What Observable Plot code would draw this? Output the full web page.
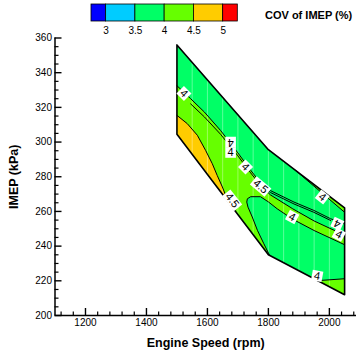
<!DOCTYPE html>
<html><head><meta charset="utf-8">
<script src="https://cdn.jsdelivr.net/npm/d3@7"></script>
<script src="https://cdn.jsdelivr.net/npm/@observablehq/plot@0.6"></script>
<style>
html,body{margin:0;padding:0;background:#fff;overflow:hidden}
#wrap{position:relative;width:356px;height:353px;font-family:"Liberation Sans",Arial,sans-serif}
#chart{position:absolute;left:0;top:0}
#legend{position:absolute;left:0;top:0}
#legendTitle{position:absolute;left:265px;top:9px;font:bold 11px "Liberation Sans",Arial,sans-serif;white-space:nowrap;color:#000}
g[aria-label="x-axis label"] text, g[aria-label="y-axis label"] text{font-weight:bold;font-size:12.5px}
</style></head><body>
<div id="wrap"><div id="chart"></div><div id="legend"></div><div id="legendTitle">COV of IMEP (%)</div></div>
<script>
// ---- legend / colour levels (COV of IMEP, %) ----
const covThresholds = [3, 3.5, 4, 4.5, 5];
const covColors = ["#0000ff", "#00ccff", "#00ff66", "#66ff00", "#ffcc00", "#ff0000"];
const legendEnds = [2.75, 5.25];

// ---- axis ticks ----
const xTicks = [1200, 1400, 1600, 1800, 2000];
const xMinorTicks = [1120, 1160, 1240, 1280, 1320, 1360, 1440, 1480, 1520, 1560, 1640, 1680, 1720, 1760, 1840, 1880, 1920, 1960, 2040, 2080];
const yTicks = [200, 220, 240, 260, 280, 300, 320, 340, 360];
const yMinorTicks = [205, 210, 215, 225, 230, 235, 245, 250, 255, 265, 270, 275, 285, 290, 295, 305, 310, 315, 325, 330, 335, 345, 350, 355];

// ---- measurement mesh columns (rpm) ----
const meshRpm = [1550, 1600, 1650, 1700, 1750, 1800, 1850, 1900, 1950, 2000];

// ---- operating-map boundary (Engine speed rpm, IMEP kPa) ----
const boundaryRpm  = [1500, 1800, 2050, 2050, 1800, 1500, 1500];
const boundaryImep = [356, 295.6, 262, 212, 235, 304.5, 356];

// ---- filled contour bands (band mid value, outline) ----
const limeBandCov = 4.25;
const limeRpm  = [1500, 1500, 1545, 1590, 1643, 1698, 1742, 1774, 1807, 1880, 1950, 2050, 2050, 1950, 1880, 1829, 1800, 1774, 1742, 1731, 1729, 1733, 1747, 1764, 1785, 1803, 1500];
const limeImep = [304.5, 332.5, 325, 317.3, 306.7, 294.2, 283.7, 276.5, 269.5, 261.5, 254.5, 246.3, 240.8, 249, 255.5, 261.5, 265.5, 268.5, 268.5, 267.3, 265.4, 262.5, 256.8, 249.1, 241.4, 235, 304.5];

const orangeBandCov = 4.75;
const orangeRpm  = [1500, 1500, 1534, 1567, 1594, 1616, 1632, 1649, 1666];
const orangeImep = [304.5, 315.4, 310.6, 303.9, 295.2, 287.5, 280.8, 274.1, 266.5];

const topSliverRpm  = [1890, 2050, 2050];
const topSliverImep = [283.5, 259.5, 262];

const cornerRpm  = [1962, 2050, 2050];
const cornerImep = [220.1, 221.2, 212];

const baseBandCov = 3.75;

// ---- contour lines ----
const lineARpm  = [1500, 1545, 1590, 1643, 1698, 1742, 1774, 1807, 1884, 1949, 2004, 2050];
const lineAImep = [332.5, 325, 317.3, 306.7, 294.2, 283.7, 276.5, 272, 265.4, 260.6, 255.8, 252.9];
const lineA2Rpm  = [1774, 1807, 1884, 1949, 2004];
const lineA2Imep = [275.3, 270.9, 264.3, 259.5, 254.8];
const lineURpm  = [1545, 1590, 1643, 1698, 1742, 1774, 1807, 1880, 1950, 2050];
const lineUImep = [322, 314.5, 304.5, 292.5, 282.2, 275, 269.5, 261.5, 254.5, 246.3];
const bulbRpm  = [2050, 1950, 1880, 1829, 1800, 1774, 1742, 1731, 1729, 1733, 1747, 1764, 1785, 1803];
const bulbImep = [240.8, 249, 255.5, 261.5, 265.5, 268.5, 268.5, 267.3, 265.4, 262.5, 256.8, 249.1, 241.4, 235];

// ---- contour labels ----
const labelRpm    = [1523, 1676, 1676, 1725, 1976.7, 1878, 2026, 2031, 1960, 1774.5, 1681];
const labelImep   = [328, 300, 294, 285.6, 268.3, 256.8, 252.9, 246.6, 222.8, 274.4, 266.4];
const labelText   = ["4", "4", "4", "4", "4", "4", "4", "4", "4", "4.5", "4.5"];
const labelAngle  = [45, 180, 0, 45, 38, 28, 205, 28, 10, 40, 52];

// ---------------------------------------------------------------
const color = d3.scaleThreshold(covThresholds, covColors);
const pts = (xs, ys) => xs.map((x, i) => ({rpm: x, imep: ys[i]}));
const boundary = pts(boundaryRpm, boundaryImep);
const lime = pts(limeRpm, limeImep);
const orange = pts(orangeRpm, orangeImep);
const topSliver = pts(topSliverRpm, topSliverImep);
const corner = pts(cornerRpm, cornerImep);
const contourLines = [
  pts(lineARpm, lineAImep), pts(lineA2Rpm, lineA2Imep), pts(lineURpm, lineUImep),
  pts(bulbRpm, bulbImep), pts(orangeRpm.slice(1), orangeImep.slice(1)),
  pts(topSliverRpm.slice(0, 2), topSliverImep.slice(0, 2)), pts(cornerRpm.slice(0, 2), cornerImep.slice(0, 2))
];
const labels = labelRpm.map((x, i) => ({rpm: x, imep: labelImep[i], text: labelText[i], angle: labelAngle[i]}));

const boxSymbol = (aspect) => ({draw(ctx, size) { const s = Math.sqrt(size); ctx.rect(-s * aspect / 2, -s / 2, s * aspect, s); }});

const xy = {x: "rpm", y: "imep"};
const marks = [
  Plot.line(boundary, {...xy, fill: color(baseBandCov), stroke: "none", ariaDescription: "map-region"}),
  Plot.line(lime, {...xy, fill: color(limeBandCov), stroke: "none"}),
  Plot.line(topSliver, {...xy, fill: color(limeBandCov), stroke: "none"}),
  Plot.line(corner, {...xy, fill: color(limeBandCov), stroke: "none"}),
  Plot.line(orange, {...xy, fill: color(orangeBandCov), stroke: "none"}),
  Plot.ruleX(meshRpm, {stroke: "white", strokeOpacity: 0.45, strokeWidth: 0.8, ariaDescription: "mesh"}),
  ...contourLines.map(l => Plot.line(l, {...xy, stroke: "black", strokeWidth: 1})),
  Plot.line(boundary, {...xy, stroke: "black", strokeWidth: 1.6}),
  Plot.dot(labels.filter(d => d.text.length === 1), {...xy, r: 6, symbol: boxSymbol(1), fill: "white", stroke: "none", rotate: "angle"}),
  Plot.dot(labels.filter(d => d.text.length > 1), {...xy, r: 6, symbol: boxSymbol(1.8), fill: "white", stroke: "none", rotate: "angle"}),
  Plot.text(labels, {...xy, text: "text", rotate: "angle", fontSize: 11, fill: "black"}),
  Plot.ruleX([1100], {strokeWidth: 1.5}),
  Plot.ruleY([200], {strokeWidth: 1.5}),
  Plot.axisX({ticks: xMinorTicks, tickSize: -3.5, tickFormat: () => "", label: null, strokeWidth: 1.2}),
  Plot.axisY({ticks: yMinorTicks, tickSize: -4, tickFormat: () => "", label: null, strokeWidth: 1.2}),
  Plot.axisX({ticks: xTicks, tickSize: -7, tickPadding: 10, tickFormat: d => String(d), strokeWidth: 1.4,
    label: "Engine Speed (rpm)", labelAnchor: "center", labelArrow: "none", labelOffset: 31}),
  Plot.axisY({ticks: yTicks, tickSize: -7, tickPadding: 10, tickFormat: d => String(d), strokeWidth: 1.4,
    label: "IMEP (kPa)", labelAnchor: "center", labelArrow: "none", labelOffset: 46})
];

const chart = Plot.plot({
  width: 356, height: 353,
  marginLeft: 54.5, marginRight: 0, marginTop: 37.5, marginBottom: 38,
  x: {domain: [1100, 2089]},
  y: {domain: [200, 360]},
  style: {fontFamily: '"Liberation Sans", Arial, sans-serif', fontSize: "10px", color: "black", background: "transparent"},
  marks
});
document.getElementById("chart").appendChild(chart);

// clip the mesh columns to the measured map region
(function () {
  const regionG = chart.querySelector('g[aria-description="map-region"]');
  const meshG = chart.querySelector('g[aria-description="mesh"]');
  const regionPath = regionG && regionG.querySelector("path");
  if (!regionPath || !meshG) return;
  const ns = "http://www.w3.org/2000/svg";
  const defs = document.createElementNS(ns, "defs");
  const cp = document.createElementNS(ns, "clipPath");
  cp.setAttribute("id", "mapClip");
  const p = document.createElementNS(ns, "path");
  p.setAttribute("d", regionPath.getAttribute("d"));
  const tr = regionG.getAttribute("transform");
  if (tr) p.setAttribute("transform", tr);
  cp.appendChild(p);
  defs.appendChild(cp);
  chart.appendChild(defs);
  const wrapper = document.createElementNS(ns, "g");
  wrapper.setAttribute("clip-path", "url(#mapClip)");
  meshG.parentNode.insertBefore(wrapper, meshG);
  wrapper.appendChild(meshG);
})();

// ---- legend ----
const bounds = [legendEnds[0], ...covThresholds, legendEnds[1]];
const bins = covColors.map((c, i) => ({x1: bounds[i], x2: bounds[i + 1], fill: c}));
const legend = Plot.plot({
  width: 356, height: 37,
  marginLeft: 91, marginRight: 118.7, marginTop: 4, marginBottom: 16,
  x: {domain: legendEnds},
  y: {domain: [0, 1], axis: null},
  color: {type: "identity"},
  style: {fontFamily: '"Liberation Sans", Arial, sans-serif', fontSize: "10px", color: "black", background: "transparent"},
  marks: [
    Plot.rect(bins, {x1: "x1", x2: "x2", y1: 0, y2: 1, fill: "fill", stroke: "black", strokeWidth: 0.8}),
    Plot.axisX({ticks: covThresholds, tickSize: 0, tickPadding: 5, tickFormat: d => String(d), label: null})
  ]
});
document.getElementById("legend").appendChild(legend);
</script>
</body></html>
